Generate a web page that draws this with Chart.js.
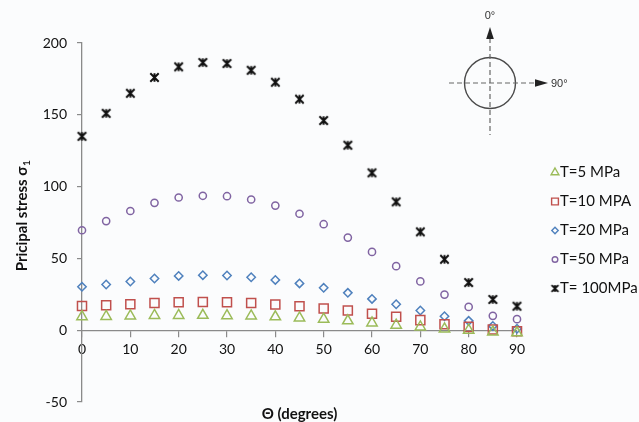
<!DOCTYPE html>
<html>
<head>
<meta charset="utf-8">
<script src="https://cdn.jsdelivr.net/npm/chart.js@4.4.1/dist/chart.umd.min.js"></script>
<style>
  html, body { margin: 0; padding: 0; background: #fbfcfd; }
  canvas { display: block; }
</style>
</head>
<body>
<canvas id="c" width="639" height="422"></canvas>
<script>
// Angle of the loading direction (degrees)
const theta = [0, 5, 10, 15, 20, 25, 30, 35, 40, 45, 50, 55, 60, 65, 70, 75, 80, 85, 90];

// Principal stress sigma_1 for each applied tension T
const t5   = [9.4, 9.6, 9.9, 10.3, 10.3, 10.4, 10.1, 9.9, 9.3, 8.5, 7.7, 6.5, 5.1, 3.5, 2.3, 0.9, 0.0, -1.2, -1.8];
const t10  = [16.9, 17.4, 18.1, 19.0, 19.5, 19.7, 19.5, 19.0, 17.9, 16.7, 15.1, 13.7, 11.4, 9.3, 7.0, 4.2, 2.3, 0.5, -0.7];
const t20  = [30.2, 31.8, 33.9, 36.0, 37.8, 38.3, 38.1, 36.9, 35.0, 32.6, 29.5, 26.0, 21.8, 18.1, 13.7, 9.7, 6.5, 3.0, 1.0];
const t50  = [69.6, 76.0, 83.0, 88.7, 92.4, 93.6, 93.3, 91.0, 86.8, 81.1, 73.8, 64.5, 54.5, 44.6, 34.0, 24.8, 16.2, 10.0, 7.7];
const t100 = [135, 151, 165, 176, 183.4, 186.4, 185.7, 181, 172.7, 160.9, 146, 128.8, 109.6, 89.4, 68.5, 49.4, 33.2, 21.4, 16.7];

const seriesNames = ['T=5 MPa', 'T=10 MPA', 'T=20 MPa', 'T=50 MPa', 'T= 100MPa'];
const xTicks = [0, 10, 20, 30, 40, 50, 60, 70, 80, 90];
const yTicks = [-50, 0, 50, 100, 150, 200];

const FONT = 'Lato, "Open Sans", "Liberation Sans", sans-serif';

// Asterisk-style marker: an X crossed by a vertical bar
function starMarker(half, lw) {
  const s = Math.ceil(half * 2 + lw + 2);
  const cv = document.createElement('canvas');
  cv.width = s; cv.height = s;
  const g = cv.getContext('2d');
  const c = s / 2;
  g.strokeStyle = '#111';
  g.lineWidth = lw;
  g.lineCap = 'butt';
  g.beginPath();
  g.moveTo(c - half, c - half); g.lineTo(c + half, c + half);
  g.moveTo(c + half, c - half); g.lineTo(c - half, c + half);
  g.moveTo(c, c - half); g.lineTo(c, c + half);
  g.stroke();
  return cv;
}

const markers = [
  { color: '#9bbb59', style: 'triangle', r: 6,   legendR: 4.5 },
  { color: '#c0504d', style: 'rect',     r: 6.4, legendR: 4.8 },
  { color: '#4f81bd', style: 'rectRot',  r: 4.2, legendR: 3.2 },
  { color: '#8064a2', style: 'circle',   r: 3.6, legendR: 2.8 },
  { color: '#111111', style: starMarker(4.2, 2), r: 5, legendR: 4, legendStyle: starMarker(3.4, 1.8) }
];

const seriesValues = [t5, t10, t20, t50, t100];

const datasets = seriesValues.map((vals, k) => ({
  label: seriesNames[k],
  data: theta.map((x, i) => ({ x: x, y: vals[i] })),
  showLine: false,
  pointStyle: markers[k].style,
  pointRadius: markers[k].r,
  pointHoverRadius: markers[k].r,
  pointBorderColor: markers[k].color,
  pointBackgroundColor: 'rgba(0,0,0,0)',
  pointBorderWidth: 1.5,
  clip: false
}));

// Axis titles, with a subscript on sigma
const titlesPlugin = {
  id: 'axisTitles',
  afterDraw(chart) {
    const ctx = chart.ctx;
    const area = chart.chartArea;
    ctx.save();
    ctx.fillStyle = '#111';
    ctx.textBaseline = 'middle';
    ctx.textAlign = 'center';
    ctx.font = 'bold 15px ' + FONT;
    ctx.fillText('\u0398 (degrees)', (area.left + area.right) / 2, 414);

    ctx.translate(22, 216);
    ctx.rotate(-Math.PI / 2);
    const main = 'Pricipal stress \u03c3';
    const w1 = ctx.measureText(main).width;
    ctx.font = 'bold 10px ' + FONT;
    const w2 = ctx.measureText('1').width;
    const x0 = -(w1 + w2) / 2;
    ctx.textAlign = 'left';
    ctx.font = 'bold 15px ' + FONT;
    ctx.fillText(main, x0, 0);
    ctx.font = 'bold 10px ' + FONT;
    ctx.fillText('1', x0 + w1 + 0.5, 4.5);
    ctx.restore();
  }
};

// Orientation sketch: a circle with dashed axes and the 0 and 90 degree arrows
const orientationPlugin = {
  id: 'orientation',
  afterDraw(chart) {
    const ctx = chart.ctx;
    const cx = 490, cy = 83, r = 25.5;
    ctx.save();
    ctx.strokeStyle = '#4a4a4a';
    ctx.fillStyle = '#222';
    ctx.lineWidth = 1.4;
    ctx.beginPath();
    ctx.arc(cx, cy, r, 0, Math.PI * 2);
    ctx.stroke();

    ctx.lineWidth = 1.2;
    ctx.strokeStyle = '#666';
    ctx.setLineDash([5, 3]);
    ctx.beginPath();
    ctx.moveTo(cx, 38); ctx.lineTo(cx, 135);
    ctx.moveTo(449, cy); ctx.lineTo(535, cy);
    ctx.stroke();
    ctx.setLineDash([]);

    ctx.beginPath();
    ctx.moveTo(cx, 27); ctx.lineTo(cx + 3.8, 39); ctx.lineTo(cx - 3.8, 39);
    ctx.closePath(); ctx.fill();

    ctx.beginPath();
    ctx.moveTo(548, cy); ctx.lineTo(535, cy - 3.8); ctx.lineTo(535, cy + 3.8);
    ctx.closePath(); ctx.fill();

    ctx.fillStyle = '#333';
    ctx.font = '11px "Liberation Sans", Arial, sans-serif';
    ctx.textBaseline = 'middle';
    ctx.textAlign = 'center';
    ctx.fillText('0\u00b0', cx, 16);
    ctx.textAlign = 'left';
    ctx.fillText('90\u00b0', 551, cy + 1);
    ctx.restore();
  }
};

// Series key on the right side
const keyPlugin = {
  id: 'seriesKey',
  afterDraw(chart) {
    const ctx = chart.ctx;
    ctx.save();
    chart.data.datasets.forEach((ds, k) => {
      const y = 172.5 + k * 29;
      const m = markers[k];
      ctx.strokeStyle = m.color;
      ctx.fillStyle = 'rgba(0,0,0,0)';
      ctx.lineWidth = 1.4;
      Chart.helpers.drawPoint(ctx, {
        pointStyle: m.legendStyle || m.style,
        radius: m.legendR,
        rotation: 0,
        borderWidth: 1.4
      }, 555, y);
      ctx.fillStyle = '#111';
      ctx.font = '15px ' + FONT;
      ctx.textAlign = 'left';
      ctx.textBaseline = 'middle';
      ctx.fillText(ds.label, 560, y);
    });
    ctx.restore();
  }
};

new Chart(document.getElementById('c'), {
  type: 'scatter',
  data: { datasets: datasets },
  options: {
    responsive: false,
    animation: false,
    devicePixelRatio: 1,
    layout: { padding: { left: 0, right: 122, top: 43, bottom: 20 } },
    plugins: {
      legend: { display: false },
      tooltip: { enabled: false }
    },
    scales: {
      x: {
        type: 'linear',
        min: 0,
        max: 90,
        position: { y: 0 },
        afterBuildTicks: s => { s.ticks = xTicks.map(v => ({ value: v })); },
        grid: { display: true, drawOnChartArea: false, drawTicks: true, tickLength: 6, color: '#8a8a8a', lineWidth: 1.2 },
        border: { display: true, color: '#8a8a8a', width: 1.3 },
        ticks: { color: '#111', font: { family: FONT, size: 14 }, padding: 5, maxRotation: 0 },
        title: { display: false }
      },
      y: {
        type: 'linear',
        min: -50,
        max: 200,
        position: 'left',
        afterFit: s => { s.width = 82; },
        afterBuildTicks: s => { s.ticks = yTicks.map(v => ({ value: v })); },
        grid: { display: true, drawOnChartArea: false, drawTicks: true, tickLength: 5, color: '#8a8a8a', lineWidth: 1.2 },
        border: { display: true, color: '#8a8a8a', width: 1.3 },
        ticks: { color: '#111', font: { family: FONT, size: 14 }, padding: 10 },
        title: { display: false }
      }
    }
  },
  plugins: [titlesPlugin, orientationPlugin, keyPlugin]
});
</script>
</body>
</html>
